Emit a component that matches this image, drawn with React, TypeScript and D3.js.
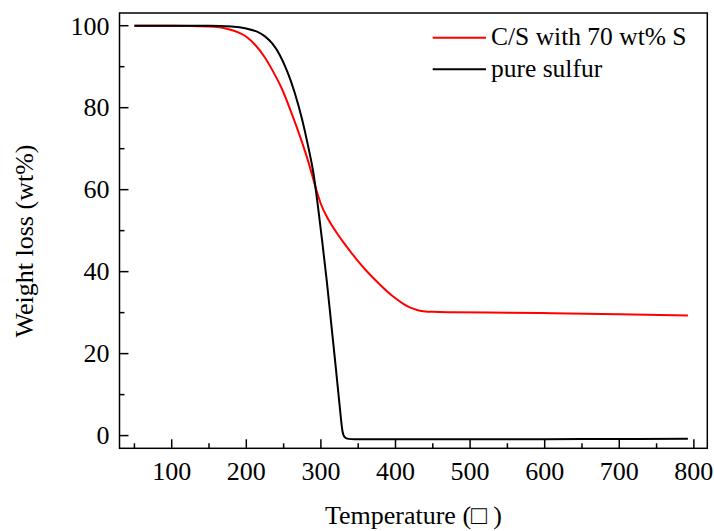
import React, { useEffect, useRef } from 'react';
import * as d3 from 'd3';

// temperature (deg C) / weight (wt%)
const csTemp = [50, 100, 150, 175, 190, 200, 212, 224, 236, 248, 260, 272, 284, 293, 300, 310, 320, 330, 340, 350, 360, 370, 380, 390, 400, 410, 420, 430, 440, 450, 475, 550, 610, 700, 792];
const csWeight = [100, 100, 99.8, 99.2, 98.3, 97.3, 95.3, 92.5, 88.8, 84.5, 79, 73, 66.3, 60.5, 56.5, 52.7, 49.8, 47.2, 44.8, 42.5, 40.4, 38.5, 36.7, 35, 33.5, 32.2, 31.2, 30.6, 30.3, 30.2, 30.1, 30, 29.85, 29.6, 29.3];

const sTemp = [50, 150, 180, 200, 215, 225, 235, 245, 255, 265, 275, 283, 290, 296, 302, 308, 314, 320, 325, 329, 332, 337, 345, 500, 650, 792];
const sWeight = [100, 100, 99.8, 99.3, 98.5, 97.4, 95.6, 92.8, 88.8, 83.6, 77, 70.5, 64, 56, 47, 37.5, 27, 16.5, 7.5, 1, -0.4, -0.8, -0.9, -0.9, -0.85, -0.8];

const xMajor = [100, 200, 300, 400, 500, 600, 700, 800];
const xMinor = [50, 150, 250, 350, 450, 550, 650, 750];
const yMajor = [0, 20, 40, 60, 80, 100];
const yMinor = [10, 30, 50, 70, 90];

const series = [
    { name: 'C/S with 70 wt% S', color: '#ff0000', temp: csTemp, weight: csWeight },
    { name: 'pure sulfur', color: '#000000', temp: sTemp, weight: sWeight },
];

const width = 714;
const height = 531;
const margins = { left: 119.5, right: 714 - 707.3, top: 13, bottom: 531 - 448.3 };
const font = '"Liberation Serif", "Times New Roman", serif';

export default function App() {
    const svgRef = useRef<SVGSVGElement>(null);

    useEffect(() => {
        const svg = d3.select(svgRef.current);
        svg.selectAll('*').remove();

        const x = d3.scaleLinear().domain([30, 818]).range([margins.left, width - margins.right]);
        const y = d3.scaleLinear().domain([-3.1, 103.1]).range([height - margins.bottom, margins.top]);
        const bottom = height - margins.bottom;
        const left = margins.left;

        // ticks (inward)
        const ticks = svg.append('g').attr('stroke', '#000').attr('stroke-width', 1.5);
        xMajor.forEach(t => ticks.append('line').attr('x1', x(t)).attr('x2', x(t)).attr('y1', bottom).attr('y2', bottom - 9));
        xMinor.forEach(t => ticks.append('line').attr('x1', x(t)).attr('x2', x(t)).attr('y1', bottom).attr('y2', bottom - 5));
        yMajor.forEach(t => ticks.append('line').attr('y1', y(t)).attr('y2', y(t)).attr('x1', left).attr('x2', left + 9));
        yMinor.forEach(t => ticks.append('line').attr('y1', y(t)).attr('y2', y(t)).attr('x1', left).attr('x2', left + 5));

        // tick labels
        const labels = svg.append('g').attr('font-family', font).attr('font-size', 26).attr('fill', '#000');
        xMajor.forEach(t => labels.append('text').attr('x', x(t)).attr('y', bottom + 31.7).attr('text-anchor', 'middle').text(t));
        yMajor.forEach(t => labels.append('text').attr('x', left - 10).attr('y', y(t) + 8.8).attr('text-anchor', 'end').text(t));

        // curves
        const line = d3.line<[number, number]>()
            .x(d => x(d[0]))
            .y(d => y(d[1]))
            .curve(d3.curveMonotoneX);
        series.forEach(s => {
            const pts = s.temp.map((t, i) => [t, s.weight[i]] as [number, number]);
            svg.append('path')
                .attr('d', line(pts))
                .attr('fill', 'none')
                .attr('stroke', s.color)
                .attr('stroke-width', 2);
        });

        // frame
        svg.append('rect')
            .attr('x', left)
            .attr('y', margins.top)
            .attr('width', width - margins.right - left)
            .attr('height', bottom - margins.top)
            .attr('fill', 'none')
            .attr('stroke', '#000')
            .attr('stroke-width', 1.5);

        // legend
        const legend = svg.append('g').attr('font-family', font).attr('font-size', 25.5);
        series.forEach((s, i) => {
            const ly = 37.7 + i * 31.6;
            legend.append('line').attr('x1', 432.7).attr('x2', 486).attr('y1', ly).attr('y2', ly)
                .attr('stroke', s.color).attr('stroke-width', 2);
            legend.append('text').attr('x', 491).attr('y', ly + 7.5).text(s.name);
        });

        // axis titles
        svg.append('text')
            .attr('x', (left + width - margins.right) / 2)
            .attr('y', 524)
            .attr('text-anchor', 'middle')
            .attr('font-family', font)
            .attr('font-size', 26)
            .text('Temperature (\u25A1 )');
        svg.append('text')
            .attr('transform', 'translate(33,241) rotate(-90)')
            .attr('text-anchor', 'middle')
            .attr('font-family', font)
            .attr('font-size', 26)
            .text('Weight loss (wt%)');
    }, []);

    return (
        <svg ref={svgRef} width={width} height={height}
            style={{ position: 'absolute', left: 0, top: 0, background: '#fff' }} />
    );
}
